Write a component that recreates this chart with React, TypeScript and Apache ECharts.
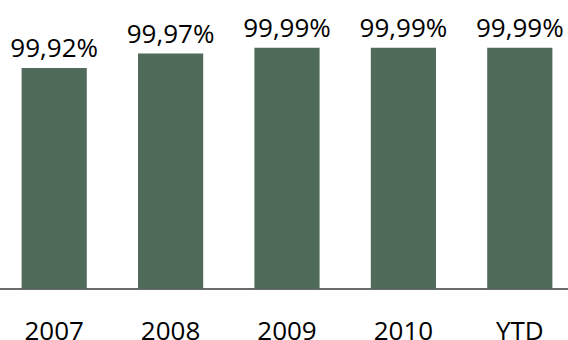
import React, { useEffect, useRef } from "react";
import * as echarts from "echarts";

const categories = ["2007", "2008", "2009", "2010", "YTD"];
const values = [99.92, 99.97, 99.99, 99.99, 99.99];

export default function App() {
  const ref = useRef<HTMLDivElement>(null);
  useEffect(() => {
    const chart = echarts.init(ref.current!, null, { renderer: "svg" });
    chart.setOption({
      animation: false,
      grid: { left: -4, width: 582, top: 45, bottom: 51, outerBoundsMode: "none" },
      xAxis: {
        type: "category",
        data: categories,
        axisTick: { show: false },
        axisLine: { lineStyle: { color: "#3a3a3a", width: 1.5 } },
        axisLabel: {
          color: "#000",
          fontSize: 26,
          fontFamily: "Open Sans",
          margin: 28,
        },
      },
      yAxis: {
        type: "value",
        min: 99.15,
        max: 100,
        show: false,
      },
      series: [
        {
          type: "bar",
          data: values,
          barWidth: "56%",
          itemStyle: { color: "#506B5A" },
          label: {
            show: true,
            position: "top",
            distance: 8,
            color: "#000",
            fontSize: 26,
            fontFamily: "Open Sans",
            formatter: (p: any) => p.value.toFixed(2).replace(".", ",") + "%",
          },
        },
      ],
    });
    return () => chart.dispose();
  }, []);
  return <div ref={ref} style={{ width: 568, height: 340, position: "absolute", left: 0, top: 0 }} />;
}
